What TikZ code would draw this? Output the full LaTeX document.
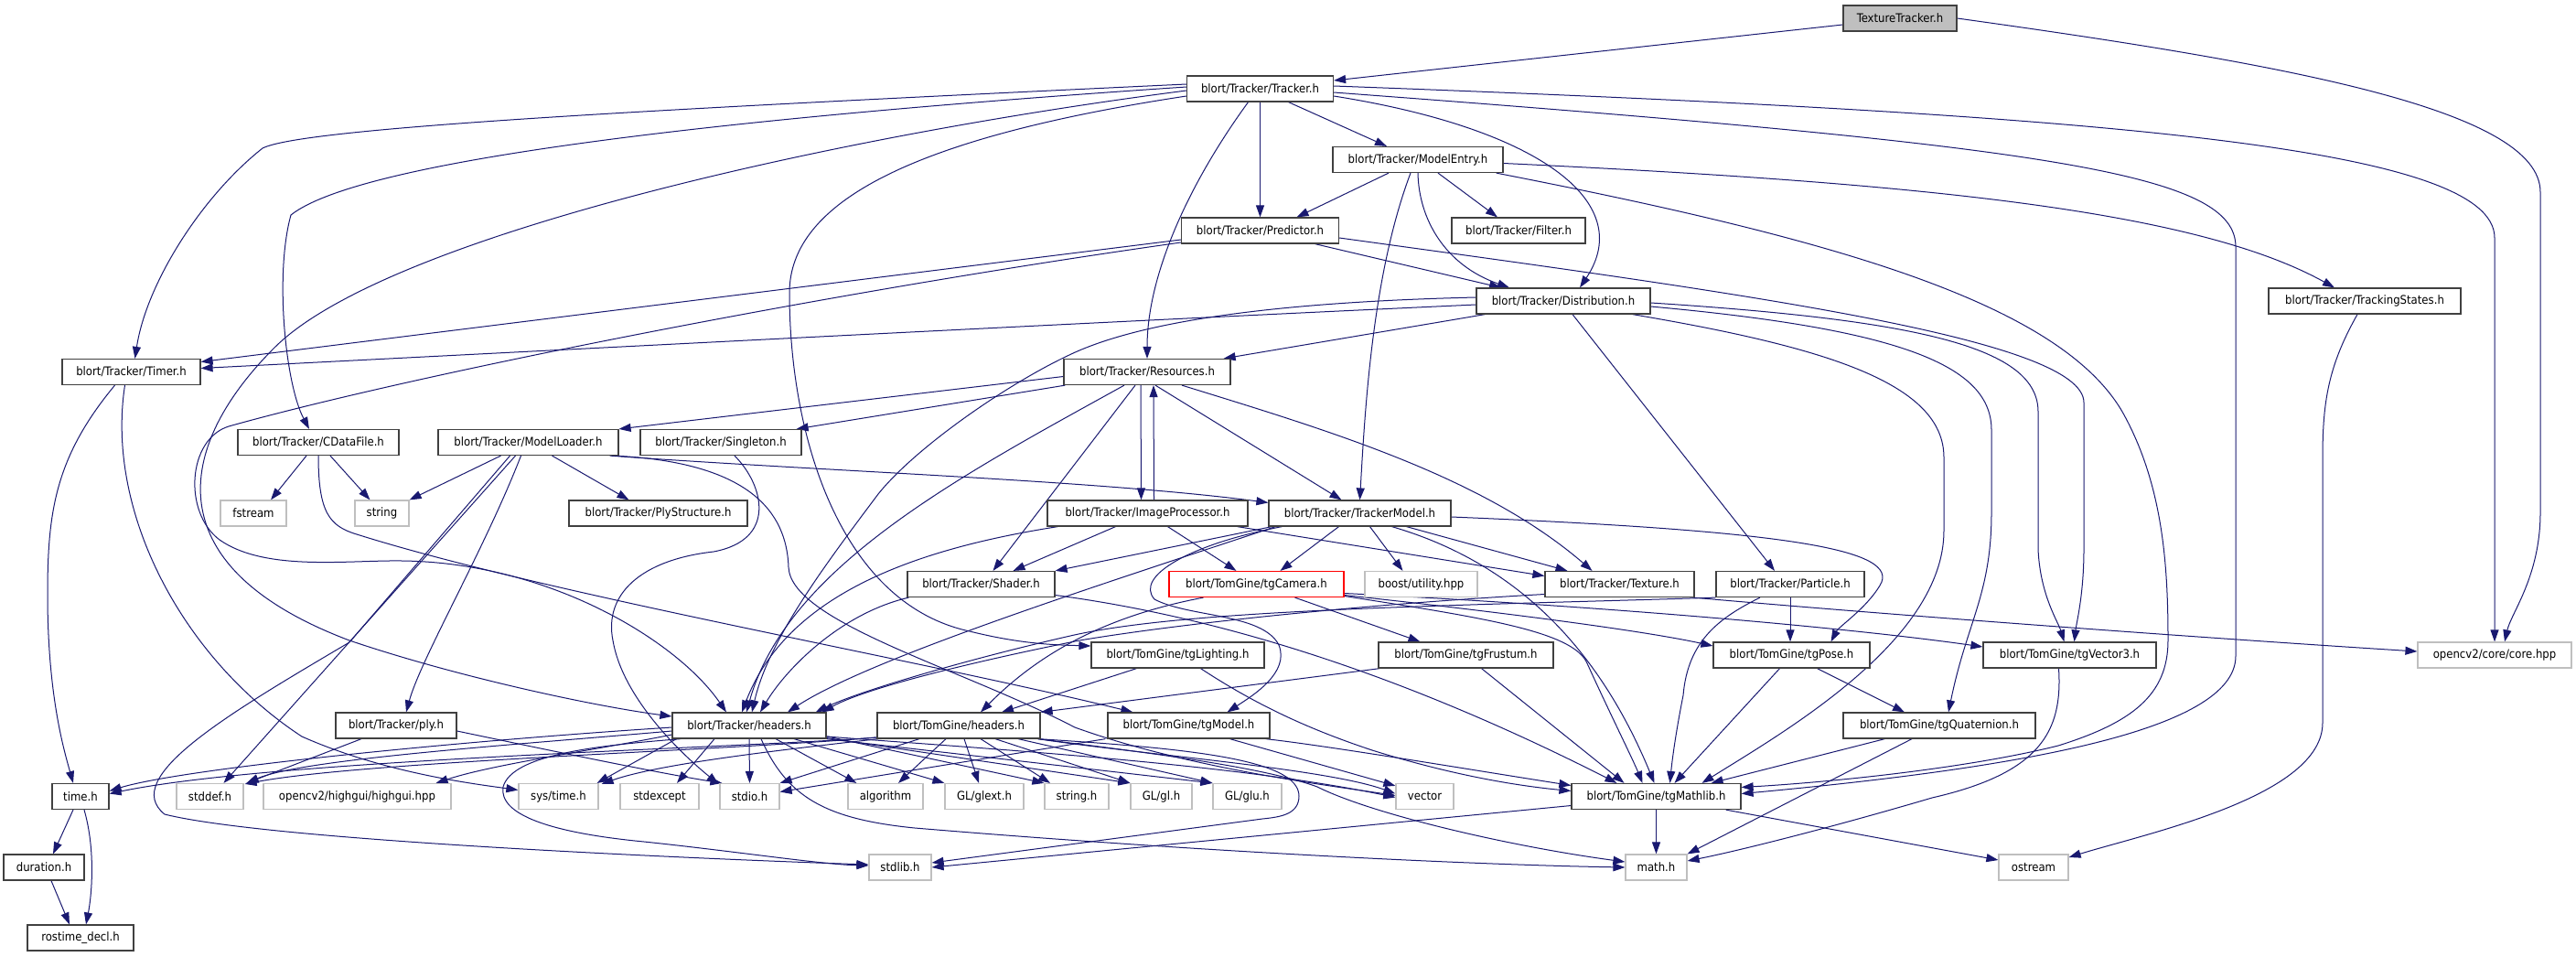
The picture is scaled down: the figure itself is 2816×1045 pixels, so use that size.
\documentclass[tikz,border=0pt]{standalone}
\usepackage{fontspec}
\setmainfont{DejaVu Sans Condensed}
\usetikzlibrary{arrows.meta,calc,backgrounds}
\definecolor{edgeblue}{HTML}{191970}
\definecolor{lightborder}{HTML}{BFBFBF}
\definecolor{rootfill}{HTML}{BFBFBF}
\definecolor{boxborder}{HTML}{404040}
\begin{document}
\begin{tikzpicture}[x=1pt,y=-1pt,
  nb/.style={draw=boxborder, line width=1.2pt, fill=white, minimum height=28pt, inner sep=0pt, font=\fontsize{13pt}{15pt}\selectfont},
  gb/.style={nb, draw=lightborder},
  rb/.style={nb, draw=red},
  rootb/.style={nb, fill=rootfill},
  ln/.style={draw=edgeblue, line width=1pt, line join=round, -{Triangle[length=13pt,width=9pt]}}]
\useasboundingbox (0,0) rectangle (2816,1045);
% ---------- nodes ----------
\node[rootb,minimum width=124pt] (tt) at (2077,20) {TextureTracker.h};
\node[nb,minimum width=160pt] (tracker) at (1377.5,97) {blort/Tracker/Tracker.h};
\node[nb,minimum width=186pt] (modelentry) at (1550,174.5) {blort/Tracker/ModelEntry.h};
\node[nb,minimum width=172pt] (predictor) at (1377.5,252) {blort/Tracker/Predictor.h};
\node[nb,minimum width=146pt] (filter) at (1660,252) {blort/Tracker/Filter.h};
\node[nb,minimum width=190pt] (distribution) at (1709,329) {blort/Tracker/Distribution.h};
\node[nb,minimum width=210pt] (trackingstates) at (2585,329) {blort/Tracker/TrackingStates.h};
\node[nb,minimum width=151pt] (timer) at (143.5,406.5) {blort/Tracker/Timer.h};
\node[nb,minimum width=182pt] (resources) at (1254,406.5) {blort/Tracker/Resources.h};
\node[nb,minimum width=176pt] (cdatafile) at (348,483.5) {blort/Tracker/CDataFile.h};
\node[nb,minimum width=197pt] (modelloader) at (577.5,483.5) {blort/Tracker/ModelLoader.h};
\node[nb,minimum width=176pt] (singleton) at (788,483.5) {blort/Tracker/Singleton.h};
\node[nb,minimum width=195pt] (plystructure) at (719.5,561) {blort/Tracker/PlyStructure.h};
\node[nb,minimum width=219pt] (imageprocessor) at (1254.5,561) {blort/Tracker/ImageProcessor.h};
\node[nb,minimum width=199pt] (trackermodel) at (1486.5,561) {blort/Tracker/TrackerModel.h};
\node[gb,minimum width=72pt] (fstream) at (277,561) {fstream};
\node[gb,minimum width=59pt] (string) at (417.5,561) {string};
\node[nb,minimum width=161pt] (shader) at (1072.5,638.5) {blort/Tracker/Shader.h};
\node[rb,minimum width=191pt] (tgcamera) at (1373.5,638.5) {blort/TomGine/tgCamera.h};
\node[gb,minimum width=123pt] (boost) at (1553.5,638.5) {boost/utility.hpp};
\node[nb,minimum width=163pt] (texture) at (1770.5,638.5) {blort/Tracker/Texture.h};
\node[nb,minimum width=162pt] (particle) at (1957,638.5) {blort/Tracker/Particle.h};
\node[nb,minimum width=189pt] (tglighting) at (1287.5,716) {blort/TomGine/tgLighting.h};
\node[nb,minimum width=191pt] (tgfrustum) at (1602.5,716) {blort/TomGine/tgFrustum.h};
\node[nb,minimum width=171pt] (tgpose) at (1958.5,716) {blort/TomGine/tgPose.h};
\node[nb,minimum width=189pt] (tgvector3) at (2262.5,716) {blort/TomGine/tgVector3.h};
\node[gb,minimum width=168pt] (core) at (2727,716) {opencv2/core/core.hpp};
\node[nb,minimum width=132pt] (ply) at (433,793) {blort/Tracker/ply.h};
\node[nb,minimum width=168pt] (theaders) at (819,793) {blort/Tracker/headers.h};
\node[nb,minimum width=178pt] (gheaders) at (1048,793) {blort/TomGine/headers.h};
\node[nb,minimum width=177pt] (tgmodel) at (1299.5,793) {blort/TomGine/tgModel.h};
\node[nb,minimum width=210pt] (tgquat) at (2120,793) {blort/TomGine/tgQuaternion.h};
\node[nb,minimum width=62pt] (timeh) at (88,870.5) {time.h};
\node[gb,minimum width=73pt] (stddef) at (229.5,870.5) {stddef.h};
\node[gb,minimum width=205pt] (highgui) at (390.5,870.5) {opencv2/highgui/highgui.hpp};
\node[gb,minimum width=87pt] (systime) at (610.5,870.5) {sys/time.h};
\node[gb,minimum width=86pt] (stdexcept) at (721,870.5) {stdexcept};
\node[gb,minimum width=65pt] (stdio) at (819.5,870.5) {stdio.h};
\node[gb,minimum width=82pt] (algorithm) at (968,870.5) {algorithm};
\node[gb,minimum width=86pt] (glext) at (1076,870.5) {GL/glext.h};
\node[gb,minimum width=70pt] (stringh) at (1177,870.5) {string.h};
\node[gb,minimum width=67pt] (gl) at (1269.5,870.5) {GL/gl.h};
\node[gb,minimum width=75pt] (glu) at (1363.5,870.5) {GL/glu.h};
\node[gb,minimum width=63pt] (vector) at (1557.5,870.5) {vector};
\node[nb,minimum width=185pt] (tgmathlib) at (1810.5,870.5) {blort/TomGine/tgMathlib.h};
\node[nb,minimum width=88pt] (duration) at (48,948) {duration.h};
\node[gb,minimum width=68pt] (stdlib) at (984,948) {stdlib.h};
\node[gb,minimum width=67pt] (mathh) at (1810.5,948) {math.h};
\node[gb,minimum width=76pt] (ostream) at (2223,948) {ostream};
\node[nb,minimum width=116pt] (rostime) at (88,1025) {rostime\_decl.h};
% ---------- edges ----------
\begin{pgfonlayer}{background}
\fill[white] (0,0) rectangle (2816,1045);
% TextureTracker
\draw[ln] ($(tt.west)+(0,7)$) -- ($(tracker.east)+(0,-9)$);
\draw[ln] (tt.east) .. controls (2500,70) and (2777,120) .. (2777,210) -- (2777,560) .. controls (2777,630) and (2745,670) .. ($(core.north)+(11,0)$);
% Tracker
\draw[ln] ($(tracker.east)+(0,-3)$) .. controls (2300,125) and (2727,160) .. (2727,260) -- (core.north);
\draw[ln] ($(tracker.east)+(0,4)$) .. controls (2250,160) and (2444,190) .. (2444,270) -- (2444,717) .. controls (2444,800) and (2200,840) .. ($(tgmathlib.east)+(0,-3)$);
\draw[ln] ($(tracker.west)+(0,-5)$) .. controls (700,120) and (330,140) .. (287,162) .. controls (220,215) and (160,310) .. ($(timer.north)+(4,0)$);
\draw[ln] ($(tracker.west)+(0,-2)$) .. controls (850,125) and (400,170) .. (318,235) .. controls (300,300) and (312,420) .. ($(cdatafile.north)+(-10,0)$);
\draw[ln] ($(tracker.west)+(0,2)$) .. controls (900,150) and (420,260) .. (300,380) .. controls (190,490) and (170,620) .. (382,700) .. controls (500,740) and (650,772) .. ($(theaders.west)+(0,-10)$);
\draw[ln] ($(tracker.west)+(0,8)$) .. controls (1000,150) and (863,220) .. (863,320) .. controls (863,480) and (920,660) .. (1060,690) .. controls (1120,705) and (1160,705) .. ($(tglighting.west)+(0,-10)$);
\draw[ln] ($(tracker.south)+(-13,0)$) .. controls (1300,200) and (1254,300) .. (resources.north);
\draw[ln] (tracker.south) -- (predictor.north);
\draw[ln] ($(tracker.south)+(31,0)$) -- ($(modelentry.north)+(-34,0)$);
\draw[ln] ($(tracker.east)+(0,8)$) .. controls (1680,140) and (1790,220) .. ($(distribution.north)+(18,0)$);
% ModelEntry
\draw[ln] ($(modelentry.south)+(-32,0)$) -- ($(predictor.north)+(40,0)$);
\draw[ln] ($(modelentry.south)+(22,0)$) -- ($(filter.north)+(-23,0)$);
\draw[ln] (modelentry.south) .. controls (1551,240) and (1580,290) .. ($(distribution.north)+(-59,0)$);
\draw[ln] ($(modelentry.south)+(-8,0)$) .. controls (1500,300) and (1492,450) .. (trackermodel.north);
\draw[ln] ($(modelentry.east)+(0,4)$) .. controls (2100,200) and (2400,230) .. ($(trackingstates.north)+(-33,0)$);
\draw[ln] ($(modelentry.south east)+(-8,0)$) .. controls (2000,260) and (2250,330) .. (2320,450) .. controls (2365,530) and (2370,620) .. (2370,700) .. controls (2370,760) and (2330,790) .. (2250,815) .. controls (2150,840) and (2000,855) .. ($(tgmathlib.east)+(0,-10)$);
% Predictor
\draw[ln] ($(predictor.west)+(0,10)$) -- ($(timer.east)+(0,-11)$);
\draw[ln] ($(predictor.west)+(0,13)$) .. controls (900,320) and (450,410) .. (250,466) .. controls (205,480) and (200,560) .. (240,590) .. controls (290,625) and (380,612) .. (440,613) .. controls (600,615) and (740,700) .. ($(theaders.north)+(-25,0)$);
\draw[ln] ($(predictor.south)+(60,0)$) -- ($(distribution.north)+(-68,0)$);
\draw[ln] ($(predictor.east)+(0,8)$) .. controls (1900,320) and (2278,370) .. (2278,440) -- (2278,600) .. controls (2278,650) and (2270,680) .. ($(tgvector3.north)+(5,0)$);
% Distribution
\draw[ln] ($(distribution.west)+(0,4)$) .. controls (1200,352) and (700,378) .. ($(timer.east)+(0,-4)$);
\draw[ln] ($(distribution.south west)+(10,0)$) -- ($(resources.north east)+(-8,0)$);
\draw[ln] ($(distribution.west)+(0,-4)$) .. controls (1400,330) and (1250,350) .. (1171,387) .. controls (1100,420) and (1000,490) .. (960,540) .. controls (900,620) and (840,700) .. ($(theaders.north)+(3,0)$);
\draw[ln] ($(distribution.south)+(10,0)$) -- ($(particle.north)+(-17,0)$);
\draw[ln] ($(distribution.south east)+(-20,0)$) .. controls (2000,380) and (2125,420) .. (2125,500) -- (2125,580) .. controls (2125,700) and (1950,800) .. ($(tgmathlib.north)+(50,0)$);
\draw[ln] ($(distribution.east)+(0,2)$) .. controls (2100,350) and (2228,380) .. (2228,450) -- (2228,600) .. controls (2230,650) and (2250,680) .. ($(tgvector3.north)+(-6,0)$);
\draw[ln] ($(distribution.east)+(0,6)$) .. controls (2080,360) and (2177,400) .. (2177,470) -- (2177,560) .. controls (2177,650) and (2150,680) .. ($(tgquat.north)+(10,0)$);
% TrackingStates
\draw[ln] ($(trackingstates.south)+(-8,0)$) .. controls (2545,400) and (2539,440) .. (2539,500) -- (2539,790) .. controls (2539,870) and (2350,910) .. ($(ostream.east)+(0,-11)$);
% Timer
\draw[ln] ($(timer.south)+(-18,0)$) .. controls (60,500) and (52,560) .. (52,650) .. controls (52,760) and (70,820) .. ($(timeh.north)+(-8,0)$);
\draw[ln] ($(timer.south)+(-7,0)$) .. controls (115,560) and (200,720) .. (330,805) .. controls (420,845) and (520,857) .. ($(systime.west)+(0,-7)$);
% CDataFile
\draw[ln] ($(cdatafile.south)+(-13,0)$) -- ($(fstream.north)+(19,0)$);
\draw[ln] ($(cdatafile.south)+(13,0)$) -- ($(string.north)+(-13,0)$);
\draw[ln] (cdatafile.south) .. controls (348,560) and (360,575) .. (390,584) .. controls (600,650) and (1000,720) .. ($(tgmodel.north west)+(28,0)$);
% ModelLoader
\draw[ln] ($(modelloader.south)+(-30,0)$) -- (string.north east);
\draw[ln] ($(modelloader.south)+(26,0)$) -- ($(plystructure.north)+(-32,0)$);
\draw[ln] ($(modelloader.south east)+(-10,0)$) .. controls (900,515) and (1200,525) .. ($(trackermodel.north west)+(0,3)$);
\draw[ln] ($(modelloader.south)+(-8,0)$) .. controls (530,600) and (460,720) .. ($(ply.north)+(11,0)$);
\draw[ln] ($(modelloader.south)+(-14,0)$) -- ($(stddef.north)+(15,0)$);
\draw[ln] ($(modelloader.south)+(-20,0)$) -- (382,702) .. controls (250,780) and (130,850) .. (180,890) .. controls (300,920) and (800,940) .. ($(stdlib.west)+(0,-3)$);
\draw[ln] ($(modelloader.south east)+(-6,0)$) .. controls (820,505) and (860,560) .. (862,620) .. controls (865,680) and (1050,730) .. (1175,795) .. controls (1300,840) and (1450,858) .. ($(vector.west)+(0,-1)$);
% Resources
\draw[ln] ($(resources.west)+(0,5)$) -- (modelloader.north east);
\draw[ln] ($(resources.south west)+(2,0)$) -- ($(singleton.north east)+(-6,0)$);
\draw[ln] ($(resources.south)+(-25,0)$) .. controls (1050,520) and (860,620) .. ($(theaders.north)+(-3,0)$);
\draw[ln] ($(resources.south)+(-13,0)$) -- ($(shader.north)+(13,0)$);
\draw[ln] ($(resources.south)+(-7,0)$) -- ($(imageprocessor.north)+(-7,0)$);
\draw[ln] ($(imageprocessor.north)+(7,0)$) -- ($(resources.south)+(7,0)$);
\draw[ln] ($(resources.south)+(9,0)$) -- ($(trackermodel.north)+(-20,0)$);
\draw[ln] ($(resources.south)+(38,0)$) .. controls (1450,470) and (1620,520) .. ($(texture.north)+(-30,0)$);
% ImageProcessor
\draw[ln] ($(imageprocessor.south west)+(12,0)$) .. controls (1000,600) and (860,650) .. ($(theaders.north)+(-8,0)$);
\draw[ln] ($(imageprocessor.south)+(-35,0)$) -- ($(shader.north)+(35,0)$);
\draw[ln] ($(imageprocessor.south)+(22,0)$) -- ($(tgcamera.north)+(-22,0)$);
\draw[ln] ($(imageprocessor.south east)+(-12,0)$) -- ($(texture.west)+(0,-9)$);
% TrackerModel
\draw[ln] ($(trackermodel.south west)+(4,0)$) -- (shader.north east);
\draw[ln] ($(trackermodel.south)+(-23,0)$) -- ($(tgcamera.north)+(26,0)$);
\draw[ln] ($(trackermodel.south)+(11,0)$) -- ($(boost.north)+(-20,0)$);
\draw[ln] ($(trackermodel.south)+(51,0)$) -- ($(texture.north)+(-57,0)$);
\draw[ln] ($(trackermodel.south)+(35,0)$) .. controls (1640,610) and (1740,690) .. ($(tgmathlib.north)+(-2,0)$);
\draw[ln] ($(trackermodel.east)+(0,4)$) .. controls (1950,580) and (2080,600) .. (2055,640) .. controls (2040,665) and (2010,685) .. ($(tgpose.north)+(43,0)$);
\draw[ln] ($(trackermodel.south west)+(15,0)$) .. controls (1300,595) and (1240,630) .. (1262,655) .. controls (1300,675) and (1380,670) .. (1398,705) .. controls (1410,735) and (1370,760) .. ($(tgmodel.north)+(42,0)$);
\draw[ln] ($(trackermodel.south west)+(8,0)$) .. controls (1200,640) and (950,720) .. ($(theaders.north)+(42,0)$);
% Shader
\draw[ln] ($(shader.south west)+(2,0)$) .. controls (920,670) and (860,730) .. ($(theaders.north)+(12,0)$);
\draw[ln] ($(shader.east)+(0,12)$) .. controls (1300,670) and (1500,720) .. ($(tgmathlib.north)+(-43,0)$);
% tgCamera
\draw[ln] ($(tgcamera.south)+(-58,0)$) .. controls (1200,675) and (1130,720) .. ($(gheaders.north)+(24,0)$);
\draw[ln] ($(tgcamera.south)+(42,0)$) -- ($(tgfrustum.north)+(-50,0)$);
\draw[ln] ($(tgcamera.east)+(0,12)$) .. controls (1650,670) and (1800,690) .. ($(tgpose.west)+(0,-10)$);
\draw[ln] ($(tgcamera.east)+(0,10)$) .. controls (1800,665) and (2050,690) .. ($(tgvector3.west)+(0,-9)$);
\draw[ln] ($(tgcamera.east)+(0,13)$) .. controls (1620,675) and (1720,690) .. (1735,725) .. controls (1760,780) and (1785,830) .. ($(tgmathlib.north)+(-15,0)$);
% Texture
\draw[ln] ($(texture.west)+(0,11)$) .. controls (1500,660) and (1300,680) .. (1180,700) .. controls (1080,720) and (950,750) .. ($(theaders.north east)+(-5,0)$);
\draw[ln] ($(texture.south east)+(-2,0)$) .. controls (2100,675) and (2450,700) .. ($(core.west)+(0,-4)$);
% Particle
\draw[ln] (particle.south) -- ($(tgpose.north)+(-1.5,0)$);
\draw[ln] ($(particle.south)+(-33,0)$) .. controls (1880,675) and (1845,700) .. (1840,760) .. controls (1832,800) and (1828,830) .. ($(tgmathlib.north)+(15,0)$);
\draw[ln] (particle.south west) .. controls (1600,662) and (1300,665) .. (1170,695) .. controls (1060,720) and (940,755) .. ($(theaders.north east)+(-12,0)$);
% tgLighting
\draw[ln] ($(tglighting.south)+(-45,0)$) -- ($(gheaders.north)+(47,0)$);
\draw[ln] ($(tglighting.south)+(25,0)$) .. controls (1380,775) and (1440,800) .. (1500,820) .. controls (1580,845) and (1650,858) .. ($(tgmathlib.west)+(0,-6)$);
% tgFrustum
\draw[ln] ($(tgfrustum.south west)+(2,0)$) -- (gheaders.north east);
\draw[ln] ($(tgfrustum.south)+(17,0)$) -- ($(tgmathlib.north)+(-35,0)$);
% tgPose
\draw[ln] ($(tgpose.south)+(-13,0)$) -- ($(tgmathlib.north)+(20,0)$);
\draw[ln] ($(tgpose.south)+(28,0)$) -- ($(tgquat.north)+(-38,0)$);
% tgQuaternion
\draw[ln] ($(tgquat.south west)+(46,0)$) -- ($(tgmathlib.north east)+(-33,0)$);
\draw[ln] ($(tgquat.south)+(-30,0)$) -- (mathh.north east);
% tgVector3
\draw[ln] ($(tgvector3.south)+(-12,0)$) .. controls (2255,800) and (2230,845) .. (2112,872) .. controls (2000,905) and (1900,930) .. ($(mathh.east)+(0,-7)$);
% tgModel
\draw[ln] ($(tgmodel.south east)+(-5,0)$) .. controls (1450,815) and (1600,840) .. ($(tgmathlib.west)+(0,-12)$);
\draw[ln] ($(tgmodel.south)+(45,0)$) -- ($(vector.north west)+(0,3)$);
\draw[ln] ($(tgmodel.south west)+(-2,0)$) -- ($(stdio.east)+(0,-5)$);
% TomGine/headers
\draw[ln] ($(gheaders.south)+(-43,0)$) -- (stdio.north east);
\draw[ln] ($(gheaders.south)+(-14,0)$) -- ($(algorithm.north)+(14,0)$);
\draw[ln] ($(gheaders.south)+(6,0)$) -- ($(glext.north)+(-6,0)$);
\draw[ln] ($(gheaders.south)+(24,0)$) -- ($(stringh.north)+(-29,0)$);
\draw[ln] ($(gheaders.south)+(40,0)$) -- (gl.north west);
\draw[ln] ($(gheaders.south)+(65,0)$) -- (glu.north west);
\draw[ln] ($(gheaders.south east)+(-3,0)$) .. controls (1250,825) and (1450,840) .. ($(vector.west)+(0,-3)$);
\draw[ln] ($(gheaders.south east)+(-3,0)$) .. controls (1250,822) and (1380,838) .. (1440,860) .. controls (1500,890) and (1650,925) .. ($(mathh.west)+(0,-6)$);
\draw[ln] ($(gheaders.south east)+(-3,0)$) .. controls (1300,818) and (1420,830) .. (1420,870) .. controls (1420,890) and (1400,893) .. (1380,895) -- ($(stdlib.east)+(0,-5)$);
\draw[ln] ($(gheaders.west)+(0,13)$) .. controls (800,818) and (300,830) .. ($(timeh.east)+(0,-3)$);
\draw[ln] ($(gheaders.west)+(0,13)$) .. controls (800,820) and (400,832) .. ($(stddef.north east)+(1,1)$);
\draw[ln] ($(gheaders.south west)+(2,0)$) .. controls (850,820) and (720,835) .. ($(systime.north east)+(3,1)$);
% Tracker/headers
\draw[ln] ($(theaders.west)+(0,2)$) .. controls (500,810) and (200,840) .. ($(timeh.east)+(0,-6)$);
\draw[ln] ($(theaders.west)+(0,6)$) .. controls (550,815) and (330,830) .. ($(stddef.north east)+(3,0)$);
\draw[ln] ($(theaders.west)+(0,10)$) .. controls (650,820) and (540,835) .. ($(highgui.north east)+(-17,0)$);
\draw[ln] ($(theaders.south west)+(5,0)$) -- ($(systime.north east)+(-2,0)$);
\draw[ln] ($(theaders.south)+(-38,0)$) -- ($(stdexcept.north)+(19,0)$);
\draw[ln] (theaders.south) -- (stdio.north);
\draw[ln] ($(theaders.south)+(29,0)$) -- ($(algorithm.north west)+(10,0)$);
\draw[ln] ($(theaders.south)+(49,0)$) -- (glext.north west);
\draw[ln] ($(theaders.south east)+(-1,-3)$) -- (stringh.north west);
\draw[ln] ($(theaders.south east)+(0,-1)$) -- (gl.north west);
\draw[ln] (theaders.south east) -- (glu.north west);
\draw[ln] ($(theaders.east)+(0,12)$) .. controls (1100,820) and (1350,835) .. ($(vector.west)+(0,1)$);
\draw[ln] ($(theaders.south)+(13,0)$) .. controls (860,870) and (900,895) .. (1000,905) .. controls (1300,930) and (1600,945) .. (mathh.west);
\draw[ln] ($(theaders.south west)+(10,0)$) .. controls (650,815) and (560,825) .. (550,860) .. controls (545,890) and (600,910) .. (704,920) .. controls (800,930) and (900,945) .. ($(stdlib.west)+(0,-2)$);
% ply
\draw[ln] ($(ply.south)+(-38,0)$) -- ($(stddef.north east)+(3,0)$);
\draw[ln] ($(ply.east)+(0,6)$) .. controls (600,820) and (720,845) .. ($(stdio.north west)+(3,0)$);
% Singleton
\draw[ln] ($(singleton.south)+(15,0)$) .. controls (835,530) and (850,590) .. (780,603) .. controls (700,612) and (660,650) .. (670,700) .. controls (680,760) and (740,820) .. ($(stdio.north west)+(-1,1)$);
% time.h
\draw[ln] ($(timeh.south)+(-8,0)$) -- ($(duration.north)+(10,0)$);
\draw[ln] ($(timeh.south)+(4,0)$) .. controls (105,930) and (100,980) .. ($(rostime.north)+(6,0)$);
\draw[ln] ($(duration.south)+(8,0)$) -- ($(rostime.north)+(-12,0)$);
% tgMathlib
\draw[ln] (tgmathlib.south) -- (mathh.north);
\draw[ln] ($(tgmathlib.west)+(0,10)$) -- (stdlib.east);
\draw[ln] ($(tgmathlib.south east)+(-17,0)$) -- ($(ostream.west)+(0,-8)$);
\end{pgfonlayer}
\end{tikzpicture}
\end{document}
